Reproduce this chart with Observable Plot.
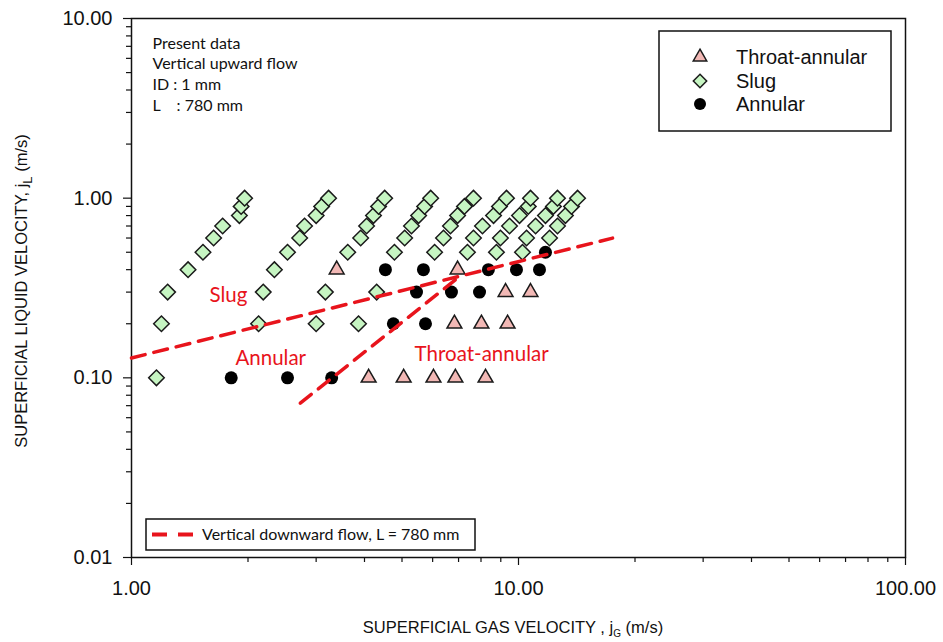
<!DOCTYPE html>
<html><head><meta charset="utf-8">
<script src="https://cdn.jsdelivr.net/npm/d3@7"></script>
<script src="https://cdn.jsdelivr.net/npm/@observablehq/plot@0.6"></script>
<style>
  html,body{margin:0;padding:0;background:#fff;}
  #chart{width:943px;height:642px;}
</style>
</head><body><div id="chart"></div>
<script>
// ---------- data ----------
// Slug regime: gas velocity jG (m/s) and liquid velocity jL (m/s)
const slugJG = [1.16,1.195,1.24,1.40,1.53,1.63,1.72,1.90,1.92,1.96,
                2.13,2.19,2.34,2.53,2.72,2.80,3.00,3.10,3.23,
                3.00,3.17,3.62,3.91,4.05,4.22,4.35,4.51,
                3.86,4.30,4.78,5.08,5.29,5.52,5.72,5.93,
                6.07,6.40,6.67,6.96,7.25,7.65,
                7.38,7.65,8.07,8.62,8.93,9.31,
                8.77,8.98,9.48,10.06,10.6,10.74,
                10.24,10.49,11.07,11.74,12.31,12.61,
                12.03,12.61,13.22,13.71,14.21];
const slugJL = [0.1,0.2,0.3,0.4,0.5,0.6,0.7,0.8,0.9,1.0,
                0.2,0.3,0.4,0.5,0.6,0.7,0.8,0.9,1.0,
                0.2,0.3,0.5,0.6,0.7,0.8,0.9,1.0,
                0.2,0.3,0.5,0.6,0.7,0.8,0.9,1.0,
                0.5,0.6,0.7,0.8,0.9,1.0,
                0.5,0.6,0.7,0.8,0.9,1.0,
                0.5,0.6,0.7,0.8,0.9,1.0,
                0.5,0.6,0.7,0.8,0.9,1.0,
                0.6,0.7,0.8,0.9,1.0];
// Annular regime
const annularJG = [1.81,2.53,3.29,4.53,4.75,5.45,5.68,5.75,6.71,7.93,8.36,9.88,11.33,11.74];
const annularJL = [0.1,0.1,0.1,0.4,0.2,0.3,0.4,0.2,0.3,0.3,0.4,0.4,0.4,0.5];
// Throat-annular regime
const throatJG = [3.39,6.96,6.83,8.02,9.37,9.26,10.74,4.10,5.05,6.03,6.87,8.22];
const throatJL = [0.4,0.4,0.2,0.2,0.2,0.3,0.3,0.1,0.1,0.1,0.1,0.1];
// Vertical downward flow transition lines (L = 780 mm)
const boundary1JG = [1.0, 17.5];
const boundary1JL = [0.129, 0.599];
const boundary2JG = [2.73, 6.96];
const boundary2JL = [0.0723, 0.359];
// Region labels
const regionNames = ["Slug", "Annular", "Throat-annular"];
const regionJG = [1.78, 2.29, 8.03];
const regionJL = [0.289, 0.128, 0.1344];
// Ticks
const xMajorTicks = [1, 10, 100];
const yMajorTicks = [0.01, 0.1, 1, 10];
const xMinorTicks = [2,3,4,5,6,7,8,9,20,30,40,50,60,70,80,90];
const yMinorTicks = [0.02,0.03,0.04,0.05,0.06,0.07,0.08,0.09,0.2,0.3,0.4,0.5,0.6,0.7,0.8,0.9,2,3,4,5,6,7,8,9];
const noteLines = ["Present data", "Vertical upward flow", "ID : 1 mm", "L\u00a0\u00a0\u00a0 : 780 mm"];
const legendLabels = ["Throat-annular", "Slug", "Annular"];
const lineLegendLabel = "Vertical downward flow, L = 780 mm";

// ---------- build rows ----------
const zip = (xs, ys) => xs.map((x, i) => ({jG: x, jL: ys[i]}));
const slugRows = zip(slugJG, slugJL);
const annularRows = zip(annularJG, annularJL);
const throatRows = zip(throatJG, throatJL);
const line1 = zip(boundary1JG, boundary1JL);
const line2 = zip(boundary2JG, boundary2JL);
const regionRows = regionNames.map((t, i) => ({t, jG: regionJG[i], jL: regionJL[i]}));

const RED = "#e8141c";
const TRI_FILL = "#f2b8b5";
const DIA_FILL = "#c6f5c2";
const SANS = "'Liberation Sans', Arial, sans-serif";
const CAL = "Lato, 'Open Sans', sans-serif";

const plot = Plot.plot({
  width: 943, height: 642,
  marginLeft: 131, marginRight: 38, marginTop: 18, marginBottom: 85,
  style: {fontFamily: SANS, background: "transparent", color: "#111"},
  x: {type: "log", domain: [1, 100]},
  y: {type: "log", domain: [0.01, 10]},
  marks: [
    Plot.axisX({ticks: xMinorTicks, tickSize: 5, tickFormat: () => "", label: null, strokeWidth: 1.2, stroke: "#111"}),
    Plot.axisY({ticks: yMinorTicks, tickSize: 5, tickFormat: () => "", label: null, strokeWidth: 1.2, stroke: "#111"}),
    Plot.axisX({ticks: xMajorTicks, tickSize: 8, tickPadding: 15, tickFormat: d => d.toFixed(2), label: null, fontSize: 20, strokeWidth: 1.2, stroke: "#111", fill: "#111"}),
    Plot.axisY({ticks: yMajorTicks, tickSize: 8, tickPadding: 11, tickFormat: d => d.toFixed(2), label: null, fontSize: 20, strokeWidth: 1.2, stroke: "#111", fill: "#111"}),
    Plot.frame({stroke: "#111", strokeWidth: 1.5}),
    Plot.dot(slugRows, {x: "jG", y: "jL", symbol: "diamond2", r: 7, fill: DIA_FILL, stroke: "#1a1a1a", strokeWidth: 1.5}),
    Plot.dot(throatRows, {x: "jG", y: "jL", symbol: "triangle", r: 5.5, fill: TRI_FILL, stroke: "#1a1a1a", strokeWidth: 1.5}),
    Plot.dot(annularRows, {x: "jG", y: "jL", symbol: "circle", r: 6.5, fill: "#000", stroke: "none"}),
    Plot.line(line1, {x: "jG", y: "jL", stroke: RED, strokeWidth: 3.5, strokeDasharray: "14,9"}),
    Plot.line(line2, {x: "jG", y: "jL", stroke: RED, strokeWidth: 3.5, strokeDasharray: "14,9"}),
    Plot.text(regionRows, {x: "jG", y: "jL", text: "t", fill: RED, fontSize: 20.5, fontFamily: CAL}),
    Plot.text([noteLines.join("\n")], {frameAnchor: "top-left", dx: 21, dy: 15.5, lineAnchor: "top", textAnchor: "start", lineHeight: 1.29, fontSize: 16, fontFamily: CAL, fill: "#111"})
  ]
});
document.getElementById("chart").appendChild(plot);

// ---------- legends and axis titles ----------
const svg = d3.select(plot);
// symbol legend (upper right)
const lg = svg.append("g");
lg.append("rect").attr("x", 659).attr("y", 31).attr("width", 232).attr("height", 100)
  .attr("fill", "#fff").attr("stroke", "#111").attr("stroke-width", 1.5);
const legSyms = [
  {sym: d3.symbolTriangle, size: Math.PI * 5 * 5, fill: TRI_FILL, stroke: "#1a1a1a"},
  {sym: d3.symbolDiamond2, size: Math.PI * 6 * 6, fill: DIA_FILL, stroke: "#1a1a1a"},
  {sym: d3.symbolCircle, size: Math.PI * 6 * 6, fill: "#000", stroke: "none"}
];
const rowY = [57, 81, 104];
legendLabels.forEach((lab, i) => {
  lg.append("path").attr("d", d3.symbol(legSyms[i].sym, legSyms[i].size)())
    .attr("transform", `translate(700,${rowY[i]})`)
    .attr("fill", legSyms[i].fill).attr("stroke", legSyms[i].stroke).attr("stroke-width", 1.5);
  lg.append("text").attr("x", 736).attr("y", rowY[i]).attr("dy", "0.35em").attr("text-anchor", "start")
    .attr("font-family", SANS).attr("font-size", 20).attr("fill", "#111").text(lab);
});
// line legend (lower left)
const lg2 = svg.append("g");
lg2.append("rect").attr("x", 146).attr("y", 519).attr("width", 329).attr("height", 31)
  .attr("fill", "#fff").attr("stroke", "#111").attr("stroke-width", 1.5);
lg2.append("line").attr("x1", 152).attr("x2", 193).attr("y1", 534.5).attr("y2", 534.5)
  .attr("stroke", RED).attr("stroke-width", 4).attr("stroke-dasharray", "15,11");
lg2.append("text").attr("x", 202).attr("y", 534.5).attr("dy", "0.35em").attr("text-anchor", "start")
  .attr("font-family", CAL).attr("font-size", 16).attr("fill", "#111").text(lineLegendLabel);

// axis titles
const xt = svg.append("text").attr("x", 513).attr("y", 633).attr("text-anchor", "middle")
  .attr("font-family", SANS).attr("font-size", 16.5).attr("fill", "#111");
xt.append("tspan").text("SUPERFICIAL GAS VELOCITY , j");
xt.append("tspan").attr("font-size", 10).attr("dy", 4).text("G");
xt.append("tspan").attr("dy", -4).text(" (m/s)");

const yt = svg.append("text").attr("transform", "translate(27,291) rotate(-90)").attr("text-anchor", "middle")
  .attr("font-family", SANS).attr("font-size", 16.5).attr("fill", "#111");
yt.append("tspan").text("SUPERFICIAL LIQUID VELOCITY, j");
yt.append("tspan").attr("font-size", 13).attr("dy", 5).text("L");
yt.append("tspan").attr("dy", -5).text(" (m/s)");
</script>
</body></html>
